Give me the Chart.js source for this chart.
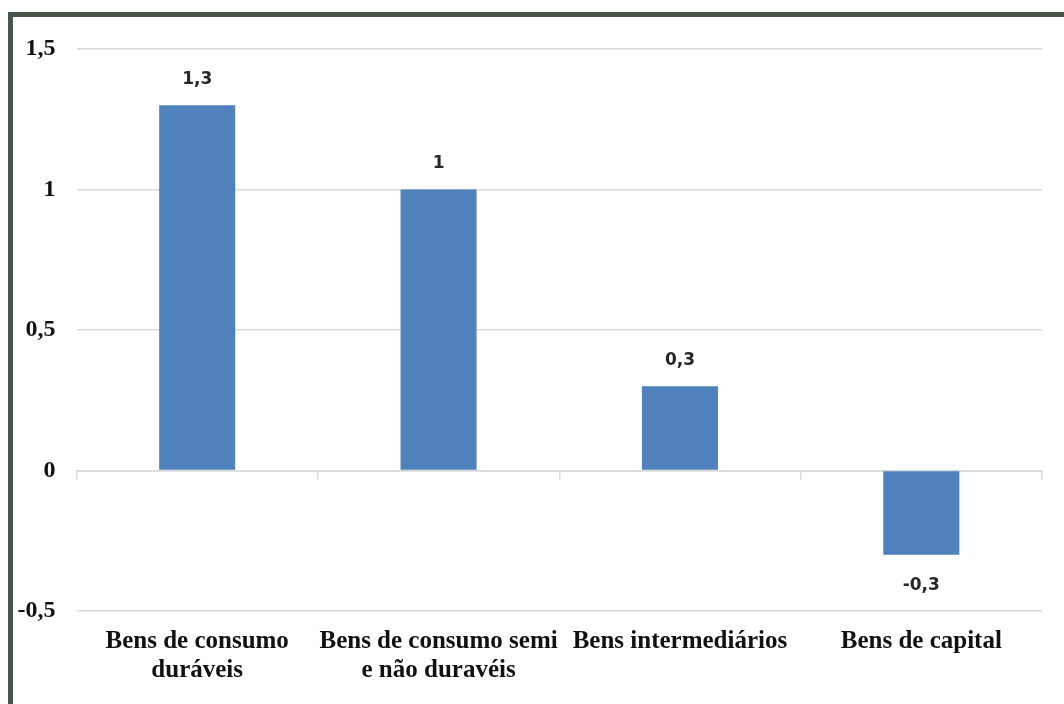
<!DOCTYPE html>
<html>
<head>
<meta charset="utf-8">
<script src="https://cdn.jsdelivr.net/npm/chart.js@4/dist/chart.umd.min.js"></script>
<style>
  html, body { margin: 0; padding: 0; background: #fff; overflow: hidden; }
  #frame {
    position: absolute; left: 8px; top: 12px; width: 1100px; height: 720px;
    border-left: 5px solid #46544a; border-top: 5px solid #46544a;
  }
  #wrap { position: absolute; left: 13px; top: 17px; width: 1051px; height: 687px; }
</style>
</head>
<body>
<div id="frame"></div>
<div id="wrap"><canvas id="chart"></canvas></div>
<script>
// categories (multi-line labels) and values
const categories = [
    ['Bens de consumo', 'duráveis'],
    ['Bens de consumo semi', 'e não duravéis'],
    'Bens intermediários',
    'Bens de capital'
];
const values = [1.3, 1, 0.3, -0.3];
const yTicks = [-0.5, 0, 0.5, 1, 1.5];

const fmt = v => String(v).replace('.', ',');

/* value labels above / below each bar */
const barLabels = {
    id: 'barLabels',
    afterDatasetsDraw(chart) {
        const ctx = chart.ctx;
        const meta = chart.getDatasetMeta(0);
        ctx.save();
        ctx.font = 'bold 17px "DejaVu Sans"';
        ctx.fillStyle = '#262626';
        ctx.textAlign = 'center';
        ctx.textBaseline = 'middle';
        meta.data.forEach((bar, i) => {
            const v = values[i];
            const y = v >= 0 ? bar.y - 26 : bar.y + 31;
            ctx.fillText(fmt(v), bar.x, y);
        });
        ctx.restore();
    }
};

const ctx = document.getElementById('chart').getContext('2d');
const chart = new Chart(ctx, {
    type: 'bar',
    data: {
        labels: categories,
        datasets: [{
            data: values,
            backgroundColor: '#4f81bd',
            borderWidth: 0,
            barPercentage: 0.315,
            categoryPercentage: 1
        }]
    },
    options: {
        responsive: true,
        maintainAspectRatio: false,
        animation: false,
        layout: { padding: { top: 32, right: 22, left: 0, bottom: 0 } },
        plugins: {
            legend: { display: false },
            tooltip: { enabled: false }
        },
        scales: {
            x: {
                grid: { display: false, drawTicks: false },
                border: { display: false },
                ticks: {
                    color: '#111',
                    padding: 16,
                    maxRotation: 0,
                    autoSkip: false,
                    font: { family: '"Liberation Serif"', size: 25, weight: 'bold', lineHeight: 1.16 }
                },
                afterFit: s => { s.height = 93; }
            },
            // second category axis sitting on the zero line, only for the tick marks
            x0: {
                type: 'category',
                position: { y: 0 },
                offset: true,
                grid: { offset: true, drawOnChartArea: false, tickLength: 8, color: '#d9d9d9', lineWidth: 1.5 },
                border: { display: true, color: '#d9d9d9', width: 1.5 },
                ticks: { display: false }
            },
            y: {
                min: -0.5,
                max: 1.5,
                afterBuildTicks: s => { s.ticks = yTicks.map(v => ({ value: v })); },
                grid: { color: '#d9d9d9', lineWidth: 1.5, drawTicks: false },
                border: { display: false },
                ticks: {
                    color: '#111',
                    padding: 21,
                    callback: v => fmt(v),
                    font: { family: '"Liberation Serif"', size: 24, weight: 'bold' }
                },
                afterFit: s => {
                    s.width = 63.5;
                    s.paddingTop = 0;
                    s.paddingBottom = 0;
                }
            }
        }
    },
    plugins: [barLabels]
});
</script>
</body>
</html>
